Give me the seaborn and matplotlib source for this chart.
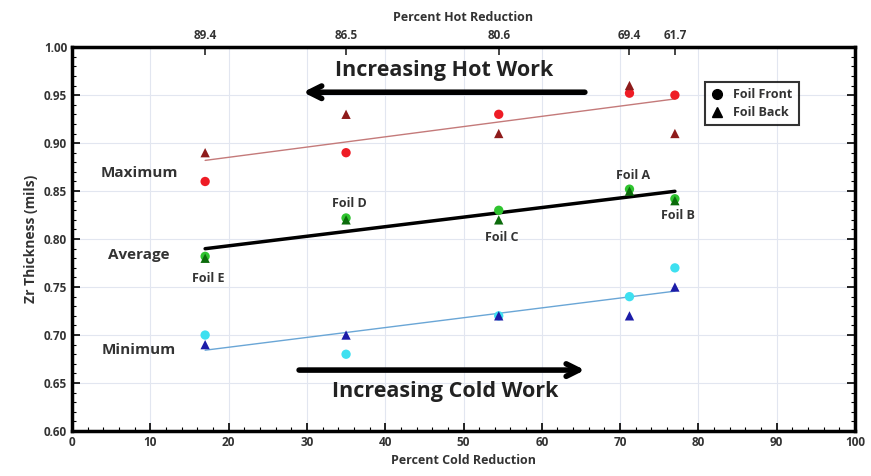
import numpy as np
import pandas as pd
import matplotlib
matplotlib.use("Agg")
import matplotlib.pyplot as plt
import seaborn as sns
from matplotlib.ticker import MultipleLocator

# -------------------------------------
# data
# -------------------------------------
cold_red = [17.0, 35.0, 54.5, 71.2, 77.0]
hot_red_labels = ["89.4", "86.5", "80.6", "69.4", "61.7"]

max_front = [0.86, 0.89, 0.93, 0.952, 0.95]
max_back = [0.89, 0.93, 0.91, 0.96, 0.91]
avg_front = [0.782, 0.822, 0.83, 0.852, 0.842]
avg_back = [0.78, 0.82, 0.82, 0.85, 0.84]
min_front = [0.70, 0.68, 0.72, 0.74, 0.77]
min_back = [0.69, 0.70, 0.72, 0.72, 0.75]

foil_names = ["Foil E", "Foil D", "Foil C", "Foil A", "Foil B"]
foil_label_y = [0.759, 0.837, 0.802, 0.866, 0.825]

groups = {
    "Maximum": (max_front, max_back),
    "Average": (avg_front, avg_back),
    "Minimum": (min_front, min_back),
}

rows = []
for g, (fr, bk) in groups.items():
    for x, f, b in zip(cold_red, fr, bk):
        rows.append({"cold": x, "zr": f, "side": "Foil Front", "key": g + " front", "group": g})
        rows.append({"cold": x, "zr": b, "side": "Foil Back", "key": g + " back", "group": g})
df = pd.DataFrame(rows)

palette = {
    "Maximum front": "#ee1c25", "Maximum back": "#8e1b1b",
    "Average front": "#2fc42f", "Average back": "#0b6b0b",
    "Minimum front": "#3ee0f0", "Minimum back": "#1c1ca8",
}
line_style = {
    "Maximum": dict(color="#c47a7a", lw=1.0),
    "Average": dict(color="black", lw=2.5),
    "Minimum": dict(color="#6aa6d6", lw=1.0),
}

sns.set_style("white")
plt.rcParams["font.family"] = ["Open Sans", "DejaVu Sans"]
plt.rcParams["font.weight"] = "bold"

fig = plt.figure(figsize=(8.71, 4.76), dpi=100)
ax = fig.add_axes([0.0827, 0.0945, 0.8989, 0.8065])

# trend lines (linear fit per group)
for g in groups:
    sns.regplot(data=df[df["group"] == g], x="cold", y="zr", scatter=False, ci=None,
                truncate=True, line_kws=line_style[g], ax=ax)

sns.scatterplot(data=df, x="cold", y="zr", hue="key", style="side", palette=palette,
                markers={"Foil Front": "o", "Foil Back": "^"}, s=45, linewidth=0,
                legend=False, ax=ax, zorder=3)

ax.set_xlim(0, 100)
ax.set_ylim(0.60, 1.00)
ax.xaxis.set_major_locator(MultipleLocator(10))
ax.xaxis.set_minor_locator(MultipleLocator(2))
ax.yaxis.set_major_locator(MultipleLocator(0.05))
ax.yaxis.set_minor_locator(MultipleLocator(0.01))
ax.yaxis.set_major_formatter(matplotlib.ticker.FormatStrFormatter("%.2f"))
ax.grid(True, which="major", color="#e2e6f0", lw=0.8)
ax.tick_params(which="both", direction="in", top=False, right=True, left=True, bottom=True,
               labelsize=8.5, colors="black")
ax.tick_params(which="major", length=6, width=1.2, labelcolor="#333333")
ax.tick_params(which="minor", length=3, width=0.8)
for sp in ax.spines.values():
    sp.set_linewidth(2.5)
    sp.set_color("black")

ax.set_xlabel("Percent Cold Reduction", fontsize=9, color="#333333", fontweight="bold")
ax.set_ylabel("Zr Thickness (mils)", fontsize=10, color="#333333", fontweight="bold")

top = ax.secondary_xaxis("top")
top.set_xticks(cold_red)
top.set_xticklabels(hot_red_labels)
top.tick_params(direction="in", length=6, width=1.2, labelsize=8.5, labelcolor="#333333")
top.set_xlabel("Percent Hot Reduction", fontsize=9, color="#333333", fontweight="bold", labelpad=6)

# group labels
ax.text(13.5, 0.869, "Maximum", ha="right", va="center", fontsize=11, color="#333333", fontweight="bold")
ax.text(12.5, 0.783, "Average", ha="right", va="center", fontsize=11, color="#333333", fontweight="bold")
ax.text(13.3, 0.684, "Minimum", ha="right", va="center", fontsize=11, color="#333333", fontweight="bold")

# foil labels
for x, name, y in zip(cold_red, foil_names, foil_label_y):
    ax.text(x + 0.4, y, name, ha="center", va="center", fontsize=9, color="#333333", fontweight="bold")

# work arrows
arrow_kw = dict(arrowstyle="->,head_length=0.9,head_width=0.45", lw=4, color="black",
                shrinkA=0, shrinkB=0)
ax.annotate("", xy=(29.5, 0.953), xytext=(65.5, 0.953), arrowprops=arrow_kw)
ax.text(47.5, 0.976, "Increasing Hot Work", ha="center", va="center", fontsize=15.5,
        color="#222222", fontweight="bold")
ax.annotate("", xy=(65.5, 0.6635), xytext=(29, 0.6635), arrowprops=arrow_kw)
ax.text(47.6, 0.641, "Increasing Cold Work", ha="center", va="center", fontsize=15.5,
        color="#222222", fontweight="bold")

# legend
handles = [
    plt.Line2D([], [], marker="o", color="black", ls="", markersize=7),
    plt.Line2D([], [], marker="^", color="black", ls="", markersize=7),
]
leg = ax.legend(handles, ["Foil Front", "Foil Back"], loc="upper left",
                bbox_to_anchor=(0.808, 0.91), frameon=True, fancybox=False,
                fontsize=9, handletextpad=0.8, borderpad=0.5, labelspacing=0.4,
                handlelength=1.0, borderaxespad=0)
leg.get_frame().set_edgecolor("black")
leg.get_frame().set_linewidth(1.5)
for t in leg.get_texts():
    t.set_fontweight("bold")
    t.set_color("#333333")

fig.savefig("out.png", dpi=100)
